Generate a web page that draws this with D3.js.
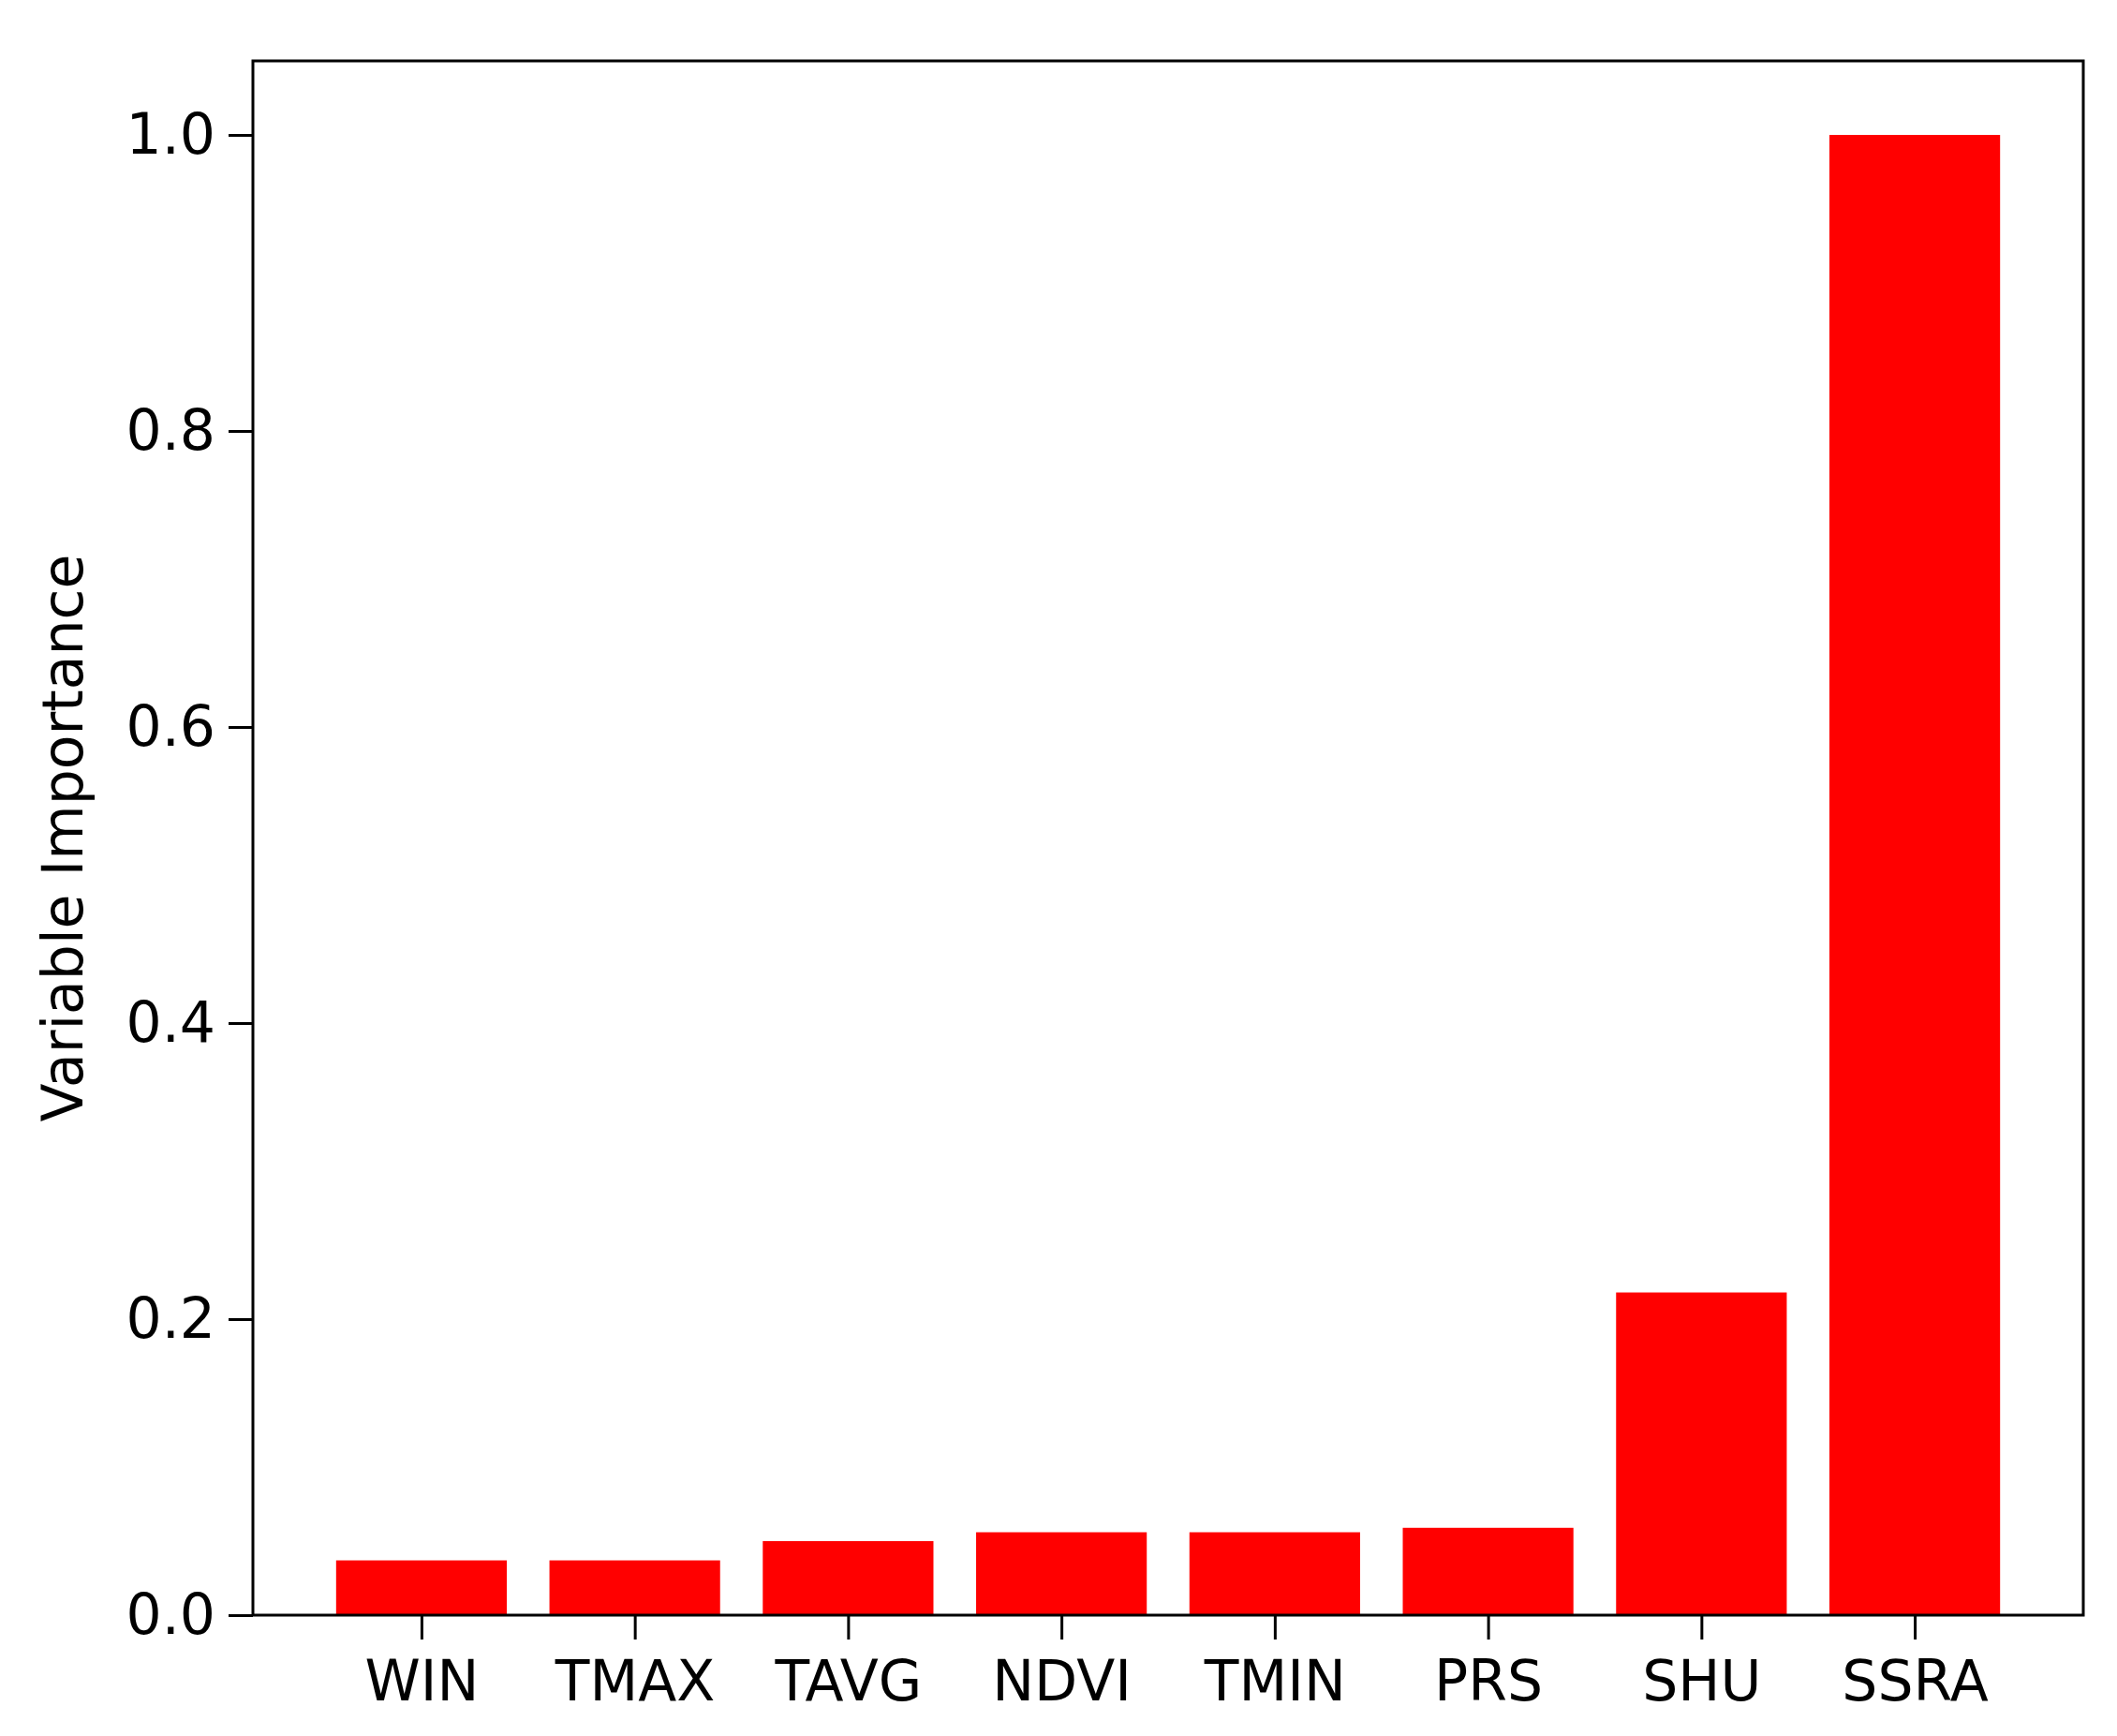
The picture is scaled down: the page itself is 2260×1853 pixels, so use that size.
<!DOCTYPE html><html><head><script src="https://d3js.org/d3.v7.min.js"></script>
<style>body{margin:0;background:#fff}</style></head><body><script>
const categories=["WIN","TMAX","TAVG","NDVI","TMIN","PRS","SHU","SSRA"];
const values=[0.037,0.037,0.050,0.056,0.056,0.059,0.218,1.0];
const yTicks=[0,0.2,0.4,0.6,0.8,1.0];
const W=2260,H=1853,L=270,R=2224,T=65,B=1724;
const svg=d3.select("body").append("svg").attr("width",W).attr("height",H).style("font-family","DejaVu Sans");
const x=d3.scaleLinear().domain([-0.79,7.79]).range([L,R]);
const y=d3.scaleLinear().domain([0,1.05]).range([B,T]);
svg.selectAll("rect.bar").data(values).join("rect").attr("class","bar")
 .attr("x",(d,i)=>x(i-0.4)).attr("width",x(0.8)-x(0)).attr("y",d=>y(d)).attr("height",d=>B-y(d)).attr("fill","#ff0000");
const ya=svg.append("g").attr("transform",`translate(${L},0)`).call(d3.axisLeft(y).tickValues(yTicks).tickFormat(d3.format(".1f")).tickSize(26).tickPadding(14));
const xa=svg.append("g").attr("transform",`translate(0,${B})`).call(d3.axisBottom(x).tickValues(d3.range(categories.length)).tickFormat(i=>categories[i]).tickSize(26).tickPadding(22));
[ya,xa].forEach(a=>{a.select(".domain").remove();a.selectAll("line").attr("stroke","#000").attr("stroke-width",3);a.selectAll("text").attr("font-size",60).attr("fill","#000").attr("font-family","DejaVu Sans");});
svg.append("rect").attr("x",L).attr("y",T).attr("width",R-L).attr("height",B-T).attr("fill","none").attr("stroke","#000").attr("stroke-width",3);
svg.append("text").attr("transform",`translate(88,${(T+B)/2}) rotate(-90)`).attr("text-anchor","middle").attr("font-size",60).text("Variable Importance");
</script></body></html>
